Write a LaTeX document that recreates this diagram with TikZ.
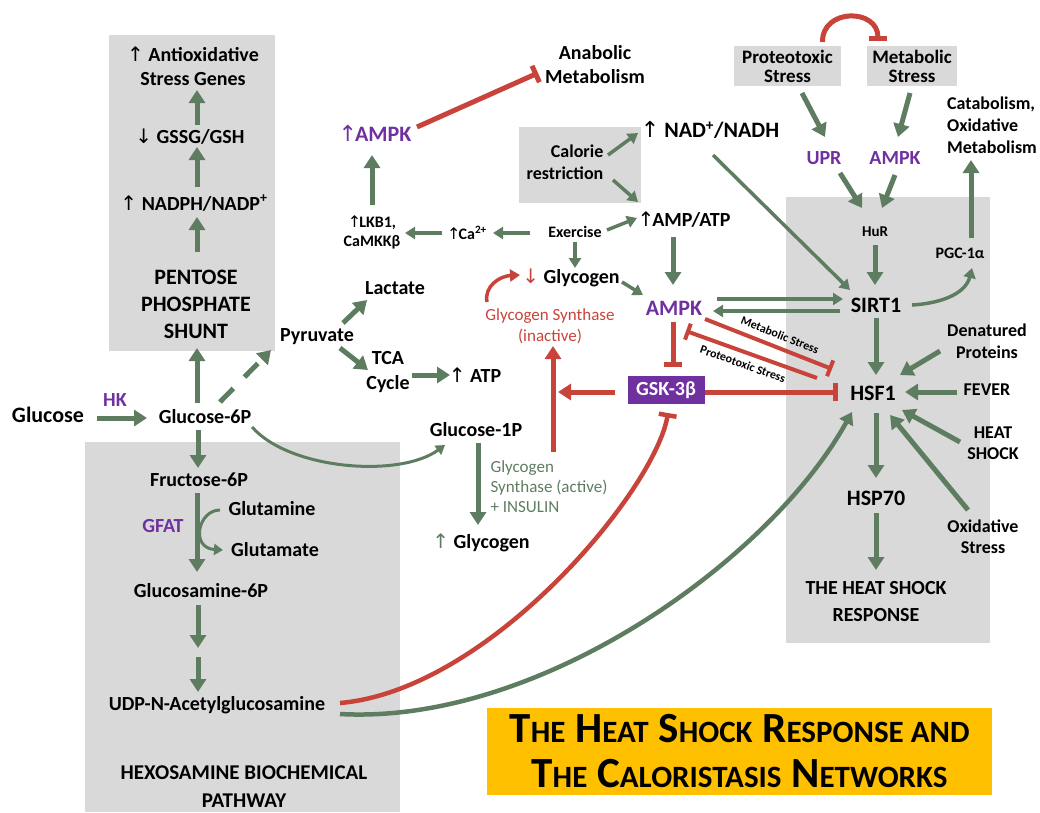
\documentclass[tikz,border=0pt]{standalone}
\usepackage{fontspec}
\usepackage{graphicx}
\setmainfont{Carlito}
\newfontfamily\dejavu{DejaVu Sans}
\usetikzlibrary{arrows.meta,calc}
\definecolor{gr}{RGB}{94,125,96}
\definecolor{rd}{RGB}{200,68,58}
\definecolor{pu}{RGB}{112,48,160}
\definecolor{bx}{RGB}{217,217,217}
\definecolor{og}{RGB}{255,192,0}
\newcommand{\upa}{{\dejavu\mdseries ↑}}
\newcommand{\upt}{{\dejavu\mdseries ↑}\kern-2pt}
\newcommand{\dna}{{\dejavu\mdseries ↓}}
\newcommand{\fsz}[2]{\fontsize{#1}{#2}\selectfont}
\newcommand{\sca}[1]{{\fsz{31}{31}#1}}
\tikzset{
  n/.style={align=center, inner sep=0pt, font=\bfseries\fsz{20}{24}},
  n22/.style={n, font=\bfseries\fsz{22}{27}},
  n18/.style={n, font=\bfseries\fsz{18}{22}},
  n16/.style={n, font=\bfseries\fsz{16}{19}},
  purp/.style={text=pu},
  graybox/.style={fill=bx, inner sep=0pt, align=center},
  garr/.style={draw=gr, line width=5pt, -{Triangle[width=16pt,length=13pt]}},
  garrs/.style={draw=gr, line width=3.5pt, -{Triangle[width=12pt,length=10pt]}},
  garrc/.style={draw=gr, line width=4.5pt, -{Triangle[width=15pt,length=12pt]}},
  garrt/.style={draw=gr, line width=3pt, -{Triangle[width=11pt,length=9pt]}},
  rarr/.style={draw=rd, line width=5pt, -{Triangle[width=16pt,length=13pt]}},
  rarrs/.style={draw=rd, line width=3.5pt, -{Triangle[width=12pt,length=10pt]}},
  rinh/.style={draw=rd, line width=5pt, -{Bar[width=18pt]}},
  rinhs/.style={draw=rd, line width=4pt, -{Bar[width=17pt]}},
  rinhc/.style={draw=rd, line width=4.5pt, -{Bar[width=18pt]}},
  slab/.style={inner sep=0pt, font=\bfseries\fsz{12}{12}},
}
\begin{document}
\begin{tikzpicture}[x=1pt,y=-1pt]
\useasboundingbox (0,0) rectangle (1040,812);
% background panels
\fill[bx] (109,35) rectangle (275,351);
\fill[bx] (519,127) rectangle (641,203);
\fill[bx] (786,197) rectangle (990,643);
\fill[bx] (85,442) rectangle (400,812);

% pentose column
\node[n] (anti) at (193,66) {\upa\ Antioxidative\\Stress Genes};
\node[n] (gssg) at (190,137) {\dna\ GSSG/GSH};
\node[n] (nadph) at (194,203) {\upa\ NADPH/NADP\textsuperscript{+}};
\node[n22] (pps) at (196,304) {PENTOSE\\PHOSPHATE\\SHUNT};

% glycolysis / hexosamine
\node[n22] (glc) at (48,415) {Glucose};
\node[n, purp] (hk) at (115,400) {HK};
\node[n] (g6p) at (205,417) {Glucose-6P};
\node[n] (f6p) at (199,480) {Fructose-6P};
\node[n, purp] (gfat) at (163,526) {GFAT};
\node[n] (gln) at (272,509) {Glutamine};
\node[n] (glu) at (275,550) {Glutamate};
\node[n] (gn6p) at (201,591) {Glucosamine-6P};
\node[n] (udp) at (217,705) {UDP-N-Acetylglucosamine};
\node[n, font=\bfseries\fsz{21}{28}] (hbp) at (244,787) {HEXOSAMINE BIOCHEMICAL\\PATHWAY};
\coordinate (brk) at (198,652);

% middle
\node[n] (pyr) at (317,337) {Pyruvate};
\node[n] (lac) at (395,288) {Lactate};
\node[n, font=\bfseries\fsz{20}{25}] (tca) at (388,372) {TCA\\Cycle};
\node[n] (atp) at (475,375) {\upa\ ATP};
\node[n] (g1p) at (476,430) {Glucose-1P};
\node[n] (glyup) at (481,543) {{\color{gr}\upa} Glycogen};
\node[n, font=\mdseries\fsz{17}{20}, text=gr, align=left] (gsa) at (549,487) {Glycogen\\Synthase (active)\\+ INSULIN};

\node[n22, purp] (ampk1) at (375,133) {\upt AMPK};
\node[n] (anab) at (595,65) {Anabolic\\Metabolism};
\node[n16] (lkb) at (372,232) {\upt LKB1,\\CaMKKβ};
\node[n16] (ca) at (467,233) {\upt Ca\textsuperscript{2+}};
\node[n16] (ex) at (575,232) {Exercise};
\node[n18, align=right] (cal) at (565,162) {Calorie\\restriction};
\node[n22] (nad) at (710,130) {\upa\ NAD\textsuperscript{+}/NADH};
\node[n] (amp) at (684,220) {\upt AMP/ATP};
\node[n] (glyd) at (571,278) {{\color{rd}\dna} Glycogen};
\node[n22, purp] (ampk) at (674,308) {AMPK};
\node[n, font=\mdseries\fsz{17}{21}, text=rd] (gsi) at (550,326) {Glycogen Synthase\\(inactive)};
\node[n, fill=pu, text=white, minimum width=77pt, minimum height=28pt] (gsk) at (666,390) {GSK-3β};

% right
\node[graybox, font=\bfseries\fsz{19}{19}, minimum width=107pt, minimum height=40pt] (prot) at (787.5,66) {Proteotoxic\\Stress};
\node[graybox, font=\bfseries\fsz{19}{19}, minimum width=90pt, minimum height=40pt] (meta) at (912,66) {Metabolic\\Stress};
\node[n, purp] (upr) at (824,158) {UPR};
\node[n, purp] (ampk2) at (895,158) {AMPK};
\node[n, font=\bfseries\fsz{15}{18}] (hur) at (875,232) {HuR};
\node[n22] (sirt) at (876,305) {SIRT1};
\node[n16] (pgc) at (960,253) {PGC-1α};
\node[n18, align=left] (cat) at (992,125) {Catabolism,\\Oxidative\\Metabolism};
\node[n22] (hsf) at (873,393) {HSF1};
\node[n18] (den) at (987,341) {Denatured\\Proteins};
\node[n18] (fev) at (987,390) {FEVER};
\node[n18, font=\bfseries\fsz{18}{21}] (heat) at (993,443) {HEAT\\SHOCK};
\node[n18, font=\bfseries\fsz{18}{21}] (oxs) at (983,537) {Oxidative\\Stress};
\node[n22] (hsp) at (876,498) {HSP70};
\node[n, font=\bfseries\fsz{20}{27}] (hsr) at (876,601) {THE HEAT SHOCK\\RESPONSE};

% labels of the two stress lines
\node[slab, rotate=-21.5] (mslab) at ($(ampk)+(106,27)$) {Metabolic Stress};
\node[slab, rotate=-19.7] (pslab) at ($(ampk)+(69,56)$) {Proteotoxic Stress};

% title
\node[fill=og, inner sep=0pt, minimum width=505pt, minimum height=87pt, align=center, font=\bfseries\fsz{43}{45}] (title) at (739.5,751.5)
  {T\sca{HE} H\sca{EAT} S\sca{HOCK} R\sca{ESPONSE AND}\\T\sca{HE} C\sca{ALORISTASIS} N\sca{ETWORKS}};

% ---- connectors: pentose
\draw[garr] ($(g6p)+(-8,-14)$) -- ($(pps)+(1,44)$);
\draw[garr] ($(pps)+(1,-52)$) -- ($(nadph)+(3,14)$);
\draw[garr] ($(nadph)+(3,-16)$) -- ($(gssg)+(7,10)$);
\draw[garr] ($(gssg)+(7,-12)$) -- ($(anti)+(4,24)$);
% glycolysis
\draw[garr] ($(glc)+(49,3)$) -- ($(g6p)+(-58,1)$);
\draw[garr, dash pattern=on 19pt off 16pt] ($(g6p)+(15,-15)$) -- ($(pyr)+(-46,13)$);
\draw[garr] ($(g6p)+(-7,13)$) -- ($(f6p)+(-1,-12)$);
\draw[garr] ($(f6p)+(-2,13)$) -- ($(gn6p)+(-4,-19)$);
\draw[garrt] ($(gln)+(-52,1)$) .. controls (198,510) and (190,548) .. ($(glu)+(-52,0)$);
\draw[garr] ($(gn6p)+(-3,14)$) -- ($(brk)+(0,-4)$);
\draw[garr] ($(brk)+(0,5)$) -- ($(udp)+(-19,-13)$);
\draw[garrt] ($(g6p)+(47,10)$) .. controls (290,470) and (400,478) .. ($(g1p)+(-31,15)$);
\draw[garr] ($(pyr)+(26,-14)$) -- ($(lac)+(-28,12)$);
\draw[garr] ($(pyr)+(23,11)$) -- ($(tca)+(-20,-2)$);
\draw[garr] ($(tca)+(24,3)$) -- ($(atp)+(-25,0)$);
\draw[garr] ($(g1p)+(2,13)$) -- ($(glyup)+(-3,-18)$);

% upper middle
\draw[garr] ($(lkb)+(0,-27)$) -- ($(ampk1)+(-3,22)$);
\draw[garrs] ($(ca)+(-25,0)$) -- ($(lkb)+(33,1)$);
\draw[garrs] ($(ex)+(-45,1)$) -- ($(ca)+(26,0)$);
\draw[garrs] ($(ex)+(32,-2)$) -- ($(amp)+(-47,-2)$);
\draw[garrs] ($(ex)+(0,10)$) -- ($(glyd)+(4,-10)$);
\draw[garrs] ($(cal)+(43,-7)$) -- ($(nad)+(-72,3)$);
\draw[garrs] ($(cal)+(48,18)$) -- ($(amp)+(-46,-18)$);
\draw[rinh] ($(ampk1)+(42,-6)$) -- ($(anab)+(-57,8)$);
\draw[garr] ($(amp)+(-11,17)$) -- ($(ampk)+(-1,-23)$);
\draw[garrs] ($(glyd)+(51,4)$) -- ($(ampk)+(-31,-13)$);
\draw[rarrs] ($(gsi)+(-63,-24)$) .. controls (484,286) and (500,276) .. ($(glyd)+(-51,-3)$);
\draw[rinh] ($(ampk)+(-1,14)$) -- ($(gsk)+(7,-23)$);
\draw[rarr] ($(gsk)+(-51,2)$) -- ($(gsi)+(8,66)$);
\draw[rarr] ($(gsa)+(4,-35)$) -- ($(gsi)+(3,20)$);
\draw[rinh] ($(gsk)+(39,2)$) -- ($(hsf)+(-35,-1)$);
\draw[garrs] ($(ampk)+(43,-9)$) -- ($(sirt)+(-33,-6)$);
\draw[garrs] ($(sirt)+(-36,6)$) -- ($(ampk)+(39,3)$);
\draw[rinhs] ($(ampk)+(31,11)$) -- ($(hsf)+(-41,-24)$);
\draw[rinhs] ($(hsf)+(-56,-15)$) -- ($(ampk)+(12,23)$);

% right
\draw[rinh] ($(prot)+(35,-24)$) .. controls (822,8) and (878,8) .. ($(meta)+(-34,-25)$);
\draw[garr] ($(prot)+(14.5,27)$) -- ($(upr)+(1,-21)$);
\draw[garr] ($(meta)+(-2,27)$) -- ($(ampk2)+(3,-21)$);
\draw[garr] ($(upr)+(16,15)$) -- ($(hur)+(-13,-24)$);
\draw[garr] ($(ampk2)+(0,17)$) -- ($(hur)+(7,-24)$);
\draw[garr] ($(hur)+(0,13)$) -- ($(sirt)+(-1,-20)$);
\draw[garrs] ($(nad)+(3,25)$) -- ($(sirt)+(-26,-15)$);
\draw[garrs] ($(sirt)+(36,0)$) .. controls (945,303) and (966,292) .. ($(pgc)+(12,15)$);
\draw[garr] ($(pgc)+(11,-15)$) -- ($(cat)+(-21,35)$);
\draw[garr] ($(sirt)+(0,13)$) -- ($(hsf)+(3,-18)$);
\draw[garr] ($(den)+(-47,10)$) -- ($(hsf)+(27,-18)$);
\draw[garr] ($(fev)+(-30,2)$) -- ($(hsf)+(32,-1)$);
\draw[garr] ($(heat)+(-33,-1)$) -- ($(hsf)+(29,17)$);
\draw[garr] ($(oxs)+(-15,-27)$) -- ($(hsf)+(17,22)$);
\draw[garr] ($(hsf)+(3,20)$) -- ($(hsp)+(0,-20)$);
\draw[garr] ($(hsp)+(0,15)$) -- ($(hsr)+(0,-31)$);

% long curves
\draw[rinhc] ($(udp)+(123,-2)$) .. controls (490,690) and (655,490) .. ($(gsk)+(2,23)$);
\draw[garrc] ($(udp)+(123,9)$) .. controls (540,725) and (770,560) .. ($(hsf)+(-21,19)$);
\end{tikzpicture}
\end{document}
